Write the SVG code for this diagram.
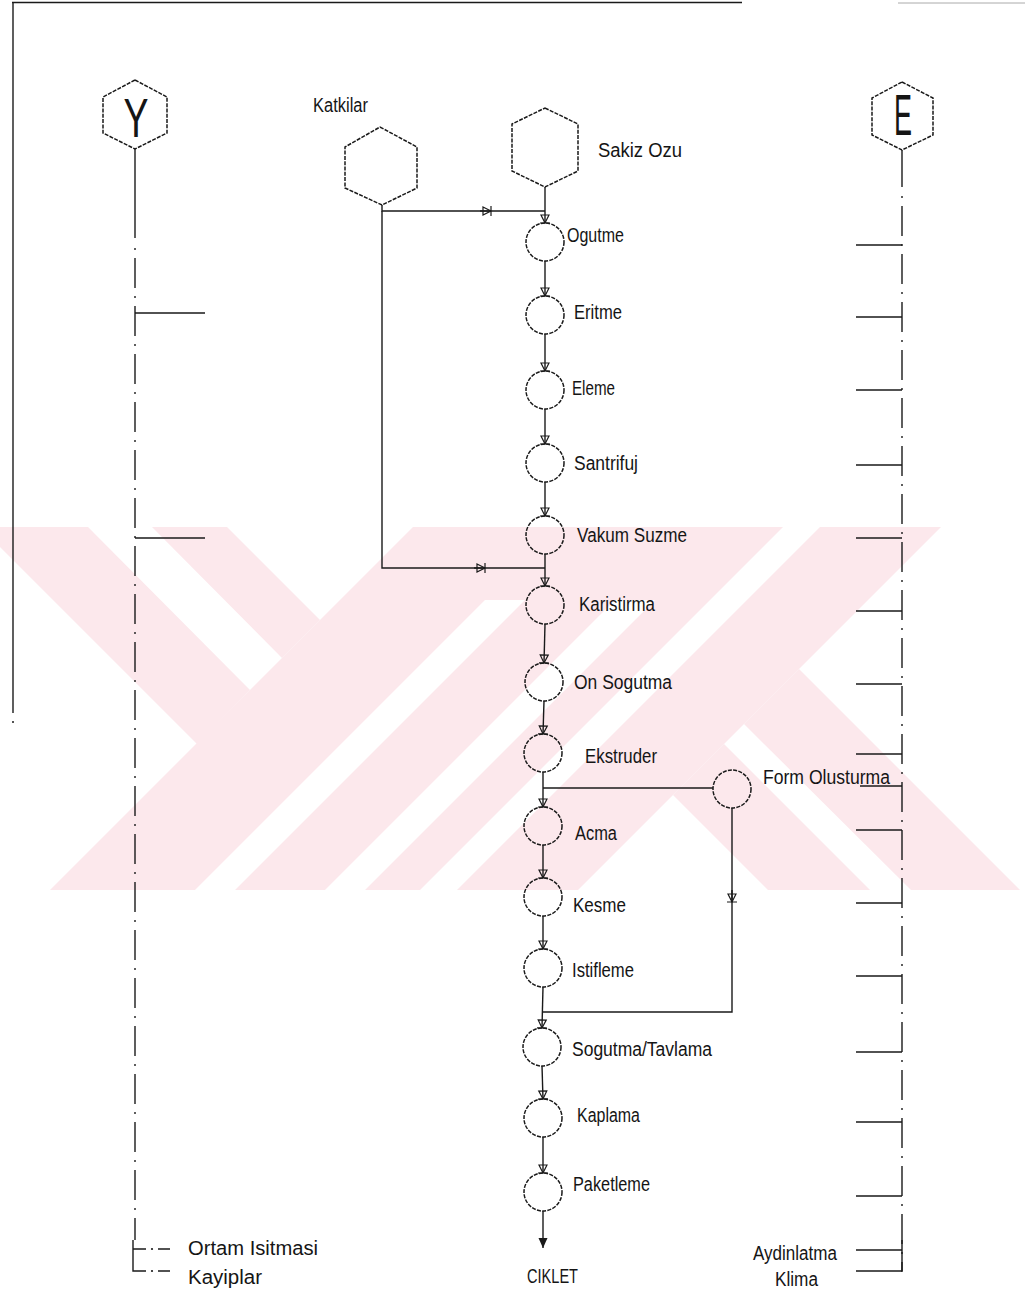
<svg xmlns="http://www.w3.org/2000/svg" width="1025" height="1296" viewBox="0 0 1025 1296">
<style>
.ln{fill:none;stroke:#1a1a1a;stroke-width:1.4}
.dd{fill:none;stroke:#1a1a1a;stroke-width:1.4;stroke-dasharray:2 8 30 8}
.shp{fill:none;stroke:#1a1a1a;stroke-width:1.5;stroke-dasharray:4 1.3}
.lbl{font-family:"Liberation Sans",Arial,sans-serif;font-size:20px;fill:#151515}
.big{font-family:"Liberation Sans",Arial,sans-serif;fill:#151515}
.wm{fill:#fce8ec}
.wh{fill:#ffffff}
</style>
<defs>
<marker id="tri" markerUnits="userSpaceOnUse" markerWidth="14" markerHeight="14" viewBox="-10 -7 14 14" refX="0" refY="0" orient="auto">
<path d="M-8,-4 L0,0 L-8,4 Z M0,-5 L0,5" fill="none" stroke="#1a1a1a" stroke-width="1.2"/>
</marker>
<marker id="arrF" markerUnits="userSpaceOnUse" markerWidth="14" markerHeight="14" viewBox="-12 -7 14 14" refX="0" refY="0" orient="auto">
<path d="M-10,-4.5 L0,0 L-10,4.5 Z" fill="#1a1a1a"/>
</marker>
<clipPath id="wmclip"><rect x="0" y="527" width="1025" height="363"/></clipPath>
</defs>
<rect width="1025" height="1296" fill="#ffffff"/>

<g id="watermark" clip-path="url(#wmclip)">
<polygon class="wm" points="-20,527 88,527 250,690 197,744"/>
<polygon class="wm" points="152,527 227,527 320,620 282,658"/>
<polygon class="wm" points="413,527 783,527 420,890 50,890"/>
<polygon class="wh" points="485,600 525,600 235,890 195,890"/>
<polygon class="wh" points="615,600 655,600 365,890 325,890"/>
<polygon class="wm" points="820,527 941,527 578,890 457,890"/>
<polygon class="wm" points="673,795 724,744 870,890 768,890"/>
<polygon class="wm" points="744,724 799,669 1020,890 911,890"/>
</g>

<g id="frame">
<path class="ln" d="M12,2.5 H742" stroke-width="2"/>
<path d="M898,3 H1025" stroke="#aaaaaa" stroke-width="1" fill="none"/>
<path class="ln" d="M13,2 V713" stroke-width="1.6"/>
<circle cx="13" cy="722" r="1" fill="#1a1a1a"/>
</g>

<g id="node-Y">
<polygon class="shp" points="135,80 167,97 167,133 135,149 103,133 103,97"/>
<text class="big" x="123.5" y="137" font-size="56" textLength="25" lengthAdjust="spacingAndGlyphs">Y</text>
</g>
<g id="node-E">
<polygon class="shp" points="902,82 933,98 933,135 902,150 872,135 872,98"/>
<text class="big" x="894" y="135" font-size="58" textLength="18" lengthAdjust="spacingAndGlyphs">E</text>
</g>

<g id="energy-lines">
<path class="ln" d="M135,149 V238"/>
<path class="dd" d="M135,248 V1240"/>
<path class="ln" d="M135,313 H205 M135,538 H205"/>
<path class="ln" d="M902,150 V187"/>
<path class="dd" d="M902,196 V1272"/>
<path class="ln" d="M856,245 H902 M856,317 H902 M856,390 H902 M856,465 H902 M856,538 H902 M856,611 H902 M856,684 H902 M856,754 H902 M860,786 H902 M856,830 H902 M856,903 H902 M856,976 H902 M856,1052 H902 M856,1122 H902 M856,1196 H902 M856,1250 H902 M856,1271 H902"/>
<path class="ln" d="M902,1240 V1271"/>
</g>

<g id="legend">
<path class="ln" d="M133,1240 V1271 H146 M133,1249 H146 M158,1249 H170 M158,1271 H170"/>
<circle cx="152" cy="1249" r="1.1" fill="#1a1a1a"/>
<circle cx="152" cy="1271" r="1.1" fill="#1a1a1a"/>
<text class="lbl" x="188" y="1255" textLength="130" lengthAdjust="spacingAndGlyphs">Ortam Isitmasi</text>
<text class="lbl" x="188" y="1284" textLength="74" lengthAdjust="spacingAndGlyphs">Kayiplar</text>
<text class="lbl" x="753" y="1260" textLength="84" lengthAdjust="spacingAndGlyphs">Aydinlatma</text>
<text class="lbl" x="775" y="1286" textLength="43" lengthAdjust="spacingAndGlyphs">Klima</text>
</g>

<g id="node-katkilar">
<polygon class="shp" points="380,127 417,147 417,188 382,205 345,188 345,147"/>
<text class="lbl" x="313" y="112" textLength="55" lengthAdjust="spacingAndGlyphs">Katkilar</text>
</g>
<g id="node-sakiz">
<polygon class="shp" points="545,108 578,124 578,171 545,187 512,171 512,124"/>
<text class="lbl" x="598" y="157" textLength="84" lengthAdjust="spacingAndGlyphs">Sakiz Ozu</text>
</g>

<g id="node-ogutme"><circle class="shp" cx="545" cy="242" r="19"/><text class="lbl" x="567" y="242" textLength="57" lengthAdjust="spacingAndGlyphs">Ogutme</text></g>
<g id="node-eritme"><circle class="shp" cx="545" cy="315" r="19"/><text class="lbl" x="574" y="319" textLength="48" lengthAdjust="spacingAndGlyphs">Eritme</text></g>
<g id="node-eleme"><circle class="shp" cx="545" cy="390" r="19"/><text class="lbl" x="572" y="395" textLength="43" lengthAdjust="spacingAndGlyphs">Eleme</text></g>
<g id="node-santrifuj"><circle class="shp" cx="545" cy="463" r="19"/><text class="lbl" x="574" y="470" textLength="64" lengthAdjust="spacingAndGlyphs">Santrifuj</text></g>
<g id="node-vakum"><circle class="shp" cx="545" cy="535" r="19"/><text class="lbl" x="577" y="542" textLength="110" lengthAdjust="spacingAndGlyphs">Vakum Suzme</text></g>
<g id="node-karistirma"><circle class="shp" cx="545" cy="605" r="19"/><text class="lbl" x="579" y="611" textLength="76" lengthAdjust="spacingAndGlyphs">Karistirma</text></g>
<g id="node-onsogutma"><circle class="shp" cx="544" cy="682" r="19"/><text class="lbl" x="574" y="689" textLength="98" lengthAdjust="spacingAndGlyphs">On Sogutma</text></g>
<g id="node-ekstruder"><circle class="shp" cx="543" cy="753" r="19"/><text class="lbl" x="585" y="763" textLength="72" lengthAdjust="spacingAndGlyphs">Ekstruder</text></g>
<g id="node-form"><circle class="shp" cx="732" cy="789" r="19"/><text class="lbl" x="763" y="784" textLength="127" lengthAdjust="spacingAndGlyphs">Form Olusturma</text></g>
<g id="node-acma"><circle class="shp" cx="543" cy="826" r="19"/><text class="lbl" x="575" y="840" textLength="42" lengthAdjust="spacingAndGlyphs">Acma</text></g>
<g id="node-kesme"><circle class="shp" cx="543" cy="897" r="19"/><text class="lbl" x="573" y="912" textLength="53" lengthAdjust="spacingAndGlyphs">Kesme</text></g>
<g id="node-istifleme"><circle class="shp" cx="543" cy="968" r="19"/><text class="lbl" x="572" y="977" textLength="62" lengthAdjust="spacingAndGlyphs">Istifleme</text></g>
<g id="node-sogutma"><circle class="shp" cx="542" cy="1047" r="19"/><text class="lbl" x="572" y="1056" textLength="140" lengthAdjust="spacingAndGlyphs">Sogutma/Tavlama</text></g>
<g id="node-kaplama"><circle class="shp" cx="543" cy="1118" r="19"/><text class="lbl" x="577" y="1122" textLength="63" lengthAdjust="spacingAndGlyphs">Kaplama</text></g>
<g id="node-paketleme"><circle class="shp" cx="543" cy="1192" r="19"/><text class="lbl" x="573" y="1191" textLength="77" lengthAdjust="spacingAndGlyphs">Paketleme</text></g>
<g id="node-ciklet"><text class="lbl" x="527" y="1283" textLength="51" lengthAdjust="spacingAndGlyphs">CIKLET</text></g>

<g id="connectors">
<path class="ln" d="M545,187 V223" marker-end="url(#tri)"/>
<path class="ln" d="M545,261 V296" marker-end="url(#tri)"/>
<path class="ln" d="M545,334 V371" marker-end="url(#tri)"/>
<path class="ln" d="M545,409 V444" marker-end="url(#tri)"/>
<path class="ln" d="M545,482 V516" marker-end="url(#tri)"/>
<path class="ln" d="M545,554 V586" marker-end="url(#tri)"/>
<path class="ln" d="M545,624 L544,663" marker-end="url(#tri)"/>
<path class="ln" d="M544,701 L543,734" marker-end="url(#tri)"/>
<path class="ln" d="M543,772 V807" marker-end="url(#tri)"/>
<path class="ln" d="M543,845 V878" marker-end="url(#tri)"/>
<path class="ln" d="M543,916 V949" marker-end="url(#tri)"/>
<path class="ln" d="M543,987 L542,1028" marker-end="url(#tri)"/>
<path class="ln" d="M542,1066 L543,1099" marker-end="url(#tri)"/>
<path class="ln" d="M543,1137 V1173" marker-end="url(#tri)"/>
<path class="ln" d="M543,1211 V1248" marker-end="url(#arrF)"/>
<path class="ln" d="M382,205 V211 H545"/>
<path class="ln" d="M480,211 H491" marker-end="url(#tri)"/>
<path class="ln" d="M382,211 V568 H545"/>
<path class="ln" d="M474,568 H485" marker-end="url(#tri)"/>
<path class="ln" d="M543,788 H713"/>
<path class="ln" d="M732,808 V1012 H543"/>
<path class="ln" d="M732,890 V902" marker-end="url(#tri)"/>
</g>
</svg>
